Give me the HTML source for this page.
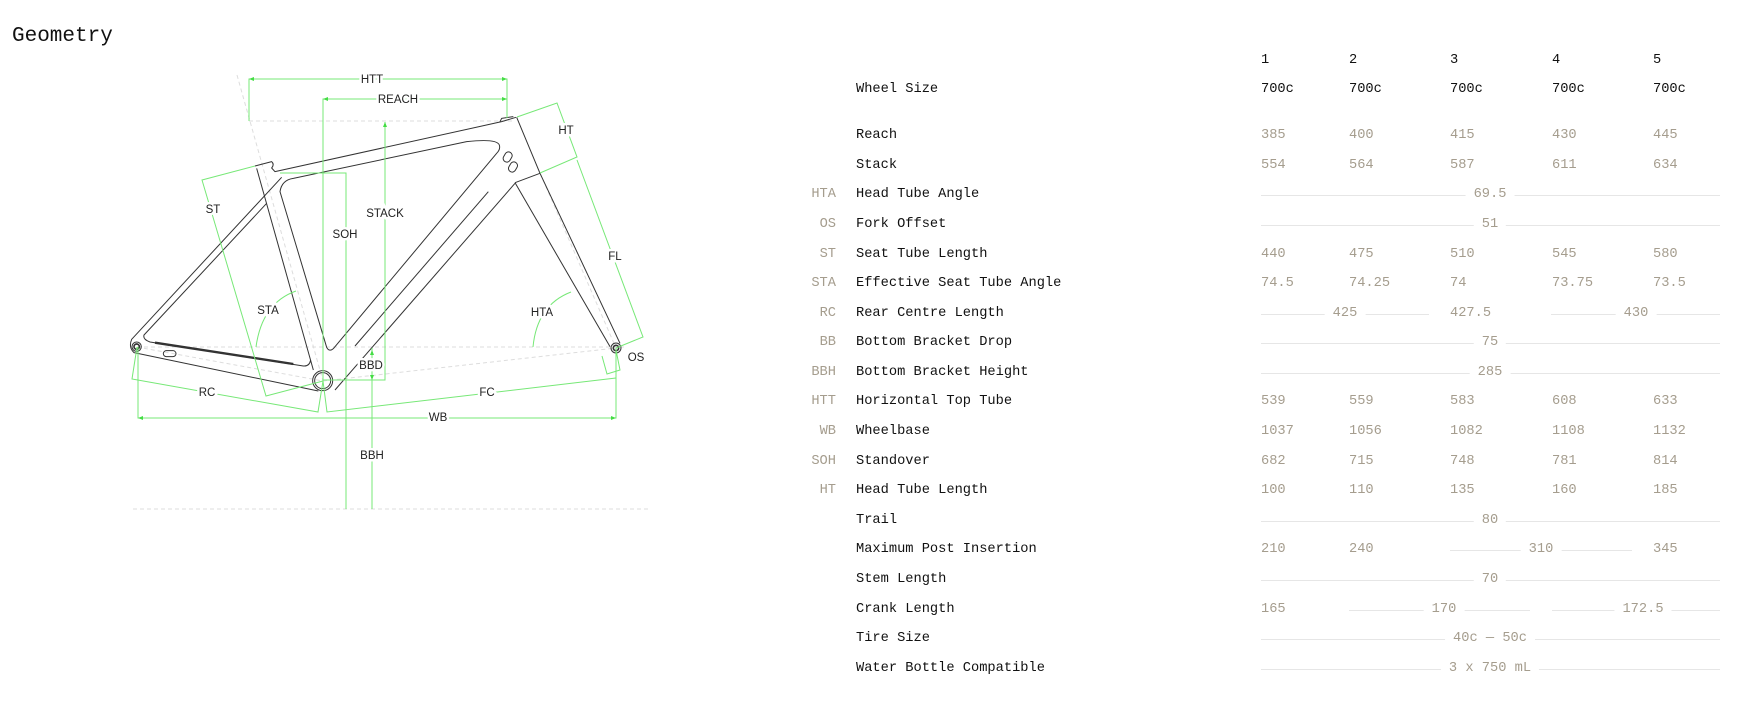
<!DOCTYPE html>
<html><head><meta charset="utf-8"><style>
html,body{margin:0;padding:0;background:#fff;width:1758px;height:712px;overflow:hidden;position:relative;font-family:"Liberation Mono",monospace;}
#tb{position:absolute;left:0;top:2px;width:1758px;height:700px;}
.t{position:absolute;font-size:13.7px;line-height:18px;white-space:nowrap;}
.lab{left:856px;color:#111;}
.ab{right:922px;color:#a59d8e;text-align:right;}
.v{color:#a59d8e;}
.k{color:#111;}
.ln{position:absolute;height:1px;background:#e6e6e6;}
.sp{position:absolute;color:#a59d8e;font-size:13.7px;line-height:18px;background:#fff;padding:0 8px;transform:translateX(-50%);}
svg text{font-family:"Liberation Sans",sans-serif;font-size:11.5px;fill:#222;paint-order:stroke;stroke:#fff;stroke-width:5px;}
</style></head><body>
<div class="t" style="left:12px;top:24px;font-size:21px;line-height:26px;color:#111;">Geometry</div>

<svg width="700" height="560" style="position:absolute;left:0;top:0" xmlns="http://www.w3.org/2000/svg">
<g fill="none" stroke="#ddd" stroke-width="1" stroke-dasharray="4 3">
<line x1="249" y1="121" x2="515" y2="121"/>
<line x1="137" y1="347" x2="625" y2="347"/>
<line x1="237" y1="75" x2="323" y2="381"/>
<line x1="323" y1="381" x2="616" y2="348"/>
<line x1="137" y1="347" x2="323" y2="381"/>
<line x1="133" y1="509" x2="648" y2="509"/>
<line x1="540" y1="173" x2="616" y2="348"/>
</g>
<g transform="translate(100,60) scale(0.33333)" fill="none" stroke="#333" stroke-width="3" stroke-linejoin="round">
<path d="M465,318 L515,305 Q524,313 515,324 L525,335 L1205,185 L1248,172"/>
<path d="M470,325 L640,930"/>
<path d="M540,395 Q545,360 580,355 L1100,245 Q1190,235 1198,255 Q1202,268 1190,280 L705,860 Q690,880 680,862 Z"/>
<path d="M545,352 L95,838 Q85,862 102,878 L655,993"/>
<path d="M500,430 L132,825 Q128,838 150,846 L610,918 Q628,920 632,900"/>
<path d="M165,848 L580,912" stroke-width="7"/>
<rect x="190" y="872" width="38" height="18" rx="9"/>
<path d="M1250,172 L1320,340 L1560,850"/>
<path d="M1245,368 L1320,340"/>
<path d="M1245,368 L1530,860"/>
<path d="M1245,370 L705,990"/>
<path d="M1165,395 L765,858"/>
<circle cx="110" cy="860" r="14"/><circle cx="110" cy="860" r="8" stroke-width="5"/>
<circle cx="668" cy="962" r="30"/><circle cx="668" cy="962" r="24"/>
<circle cx="1548" cy="864" r="15"/><circle cx="1548" cy="864" r="8" stroke-width="5"/>
<rect x="1212" y="275" width="22" height="32" rx="11" transform="rotate(30 1223 291)"/>
<rect x="1228" y="305" width="22" height="32" rx="11" transform="rotate(30 1239 321)"/>
<path d="M1200,185 L1205,175 L1240,170"/>
</g>
<g fill="none" stroke="#77e877" stroke-width="1">
<path d="M249,121 L249,79 L507,79 L507,118"/>
<path d="M323,381 L323,99 L507,99"/>
<path d="M385,122 L385,380 L323,380"/>
<path d="M280,173 L346,173 L346,509"/>
<path d="M372,348 L372,509"/>
<path d="M255,166 L202,180 L266,396 L323,381"/>
<path d="M137,347 L132,379 L318,412 L323,381"/>
<path d="M323,381 L327,412 L616,378"/>
<path d="M138,347 L138,418 L616,418 L616,348"/>
<path d="M517,117 L557,103 L577,157 L540,173"/>
<path d="M577,160 L643,337 L616,348"/>
<path d="M602,356 L607,374 L620,370 L616,350"/>
<path d="M296,291 Q262,303 256,347"/>
<path d="M571,292 Q537,305 533,347"/>
</g>
<g fill="#4d4">
<polygon points="249,79 254,77 254,81"/><polygon points="507,79 502,77 502,81"/>
<polygon points="323,99 328,97 328,101"/><polygon points="507,99 502,97 502,101"/>
<polygon points="385,122 383,127 387,127"/><polygon points="372,350 370,355 374,355"/><polygon points="372,380 370,375 374,375"/>
<polygon points="138,418 143,416 143,420"/><polygon points="616,418 611,416 611,420"/>
</g>
<g text-anchor="middle" dominant-baseline="middle">
<text x="372" y="80">HTT</text>
<text x="398" y="100">REACH</text>
<text x="385" y="214">STACK</text>
<text x="345" y="235">SOH</text>
<text x="213" y="210">ST</text>
<text x="268" y="311">STA</text>
<text x="542" y="313">HTA</text>
<text x="566" y="131">HT</text>
<text x="615" y="257">FL</text>
<text x="636" y="358">OS</text>
<text x="371" y="366">BBD</text>
<text x="207" y="393">RC</text>
<text x="487" y="393">FC</text>
<text x="438" y="418">WB</text>
<text x="372" y="456">BBH</text>
</g>
</svg>

<div id="tb">
<div class="t k" style="left:1261px;top:50px">1</div>
<div class="t k" style="left:1349px;top:50px">2</div>
<div class="t k" style="left:1450px;top:50px">3</div>
<div class="t k" style="left:1552px;top:50px">4</div>
<div class="t k" style="left:1653px;top:50px">5</div>
<div class="t lab" style="top:79px">Wheel Size</div>
<div class="t k" style="left:1261px;top:79px">700c</div>
<div class="t k" style="left:1349px;top:79px">700c</div>
<div class="t k" style="left:1450px;top:79px">700c</div>
<div class="t k" style="left:1552px;top:79px">700c</div>
<div class="t k" style="left:1653px;top:79px">700c</div>

<div class="t lab" style="top:125px">Reach</div>
<div class="t v" style="left:1261px;top:125px">385</div><div class="t v" style="left:1349px;top:125px">400</div><div class="t v" style="left:1450px;top:125px">415</div><div class="t v" style="left:1552px;top:125px">430</div><div class="t v" style="left:1653px;top:125px">445</div>

<div class="t lab" style="top:155px">Stack</div>
<div class="t v" style="left:1261px;top:155px">554</div><div class="t v" style="left:1349px;top:155px">564</div><div class="t v" style="left:1450px;top:155px">587</div><div class="t v" style="left:1552px;top:155px">611</div><div class="t v" style="left:1653px;top:155px">634</div>

<div class="t ab" style="top:184px">HTA</div><div class="t lab" style="top:184px">Head Tube Angle</div>
<div class="ln" style="left:1261px;width:459px;top:193px"></div><div class="sp" style="left:1490px;top:184px">69.5</div>

<div class="t ab" style="top:214px">OS</div><div class="t lab" style="top:214px">Fork Offset</div>
<div class="ln" style="left:1261px;width:459px;top:223px"></div><div class="sp" style="left:1490px;top:214px">51</div>

<div class="t ab" style="top:244px">ST</div><div class="t lab" style="top:244px">Seat Tube Length</div>
<div class="t v" style="left:1261px;top:244px">440</div><div class="t v" style="left:1349px;top:244px">475</div><div class="t v" style="left:1450px;top:244px">510</div><div class="t v" style="left:1552px;top:244px">545</div><div class="t v" style="left:1653px;top:244px">580</div>

<div class="t ab" style="top:273px">STA</div><div class="t lab" style="top:273px">Effective Seat Tube Angle</div>
<div class="t v" style="left:1261px;top:273px">74.5</div><div class="t v" style="left:1349px;top:273px">74.25</div><div class="t v" style="left:1450px;top:273px">74</div><div class="t v" style="left:1552px;top:273px">73.75</div><div class="t v" style="left:1653px;top:273px">73.5</div>

<div class="t ab" style="top:303px">RC</div><div class="t lab" style="top:303px">Rear Centre Length</div>
<div class="ln" style="left:1261px;width:168px;top:312px"></div><div class="sp" style="left:1345px;top:303px">425</div>
<div class="t v" style="left:1450px;top:303px">427.5</div>
<div class="ln" style="left:1551px;width:169px;top:312px"></div><div class="sp" style="left:1636px;top:303px">430</div>

<div class="t ab" style="top:332px">BB</div><div class="t lab" style="top:332px">Bottom Bracket Drop</div>
<div class="ln" style="left:1261px;width:459px;top:341px"></div><div class="sp" style="left:1490px;top:332px">75</div>

<div class="t ab" style="top:362px">BBH</div><div class="t lab" style="top:362px">Bottom Bracket Height</div>
<div class="ln" style="left:1261px;width:459px;top:371px"></div><div class="sp" style="left:1490px;top:362px">285</div>

<div class="t ab" style="top:391px">HTT</div><div class="t lab" style="top:391px">Horizontal Top Tube</div>
<div class="t v" style="left:1261px;top:391px">539</div><div class="t v" style="left:1349px;top:391px">559</div><div class="t v" style="left:1450px;top:391px">583</div><div class="t v" style="left:1552px;top:391px">608</div><div class="t v" style="left:1653px;top:391px">633</div>

<div class="t ab" style="top:421px">WB</div><div class="t lab" style="top:421px">Wheelbase</div>
<div class="t v" style="left:1261px;top:421px">1037</div><div class="t v" style="left:1349px;top:421px">1056</div><div class="t v" style="left:1450px;top:421px">1082</div><div class="t v" style="left:1552px;top:421px">1108</div><div class="t v" style="left:1653px;top:421px">1132</div>

<div class="t ab" style="top:451px">SOH</div><div class="t lab" style="top:451px">Standover</div>
<div class="t v" style="left:1261px;top:451px">682</div><div class="t v" style="left:1349px;top:451px">715</div><div class="t v" style="left:1450px;top:451px">748</div><div class="t v" style="left:1552px;top:451px">781</div><div class="t v" style="left:1653px;top:451px">814</div>

<div class="t ab" style="top:480px">HT</div><div class="t lab" style="top:480px">Head Tube Length</div>
<div class="t v" style="left:1261px;top:480px">100</div><div class="t v" style="left:1349px;top:480px">110</div><div class="t v" style="left:1450px;top:480px">135</div><div class="t v" style="left:1552px;top:480px">160</div><div class="t v" style="left:1653px;top:480px">185</div>

<div class="t lab" style="top:510px">Trail</div>
<div class="ln" style="left:1261px;width:459px;top:519px"></div><div class="sp" style="left:1490px;top:510px">80</div>

<div class="t lab" style="top:539px">Maximum Post Insertion</div>
<div class="t v" style="left:1261px;top:539px">210</div><div class="t v" style="left:1349px;top:539px">240</div>
<div class="ln" style="left:1450px;width:182px;top:548px"></div><div class="sp" style="left:1541px;top:539px">310</div>
<div class="t v" style="left:1653px;top:539px">345</div>

<div class="t lab" style="top:569px">Stem Length</div>
<div class="ln" style="left:1261px;width:459px;top:578px"></div><div class="sp" style="left:1490px;top:569px">70</div>

<div class="t lab" style="top:599px">Crank Length</div>
<div class="t v" style="left:1261px;top:599px">165</div>
<div class="ln" style="left:1349px;width:181px;top:608px"></div><div class="sp" style="left:1444px;top:599px">170</div>
<div class="ln" style="left:1552px;width:168px;top:608px"></div><div class="sp" style="left:1643px;top:599px">172.5</div>

<div class="t lab" style="top:628px">Tire Size</div>
<div class="ln" style="left:1261px;width:459px;top:637px"></div><div class="sp" style="left:1490px;top:628px">40c — 50c</div>

<div class="t lab" style="top:658px">Water Bottle Compatible</div>
<div class="ln" style="left:1261px;width:459px;top:667px"></div><div class="sp" style="left:1490px;top:658px">3 x 750 mL</div>
</div>
</body></html>
